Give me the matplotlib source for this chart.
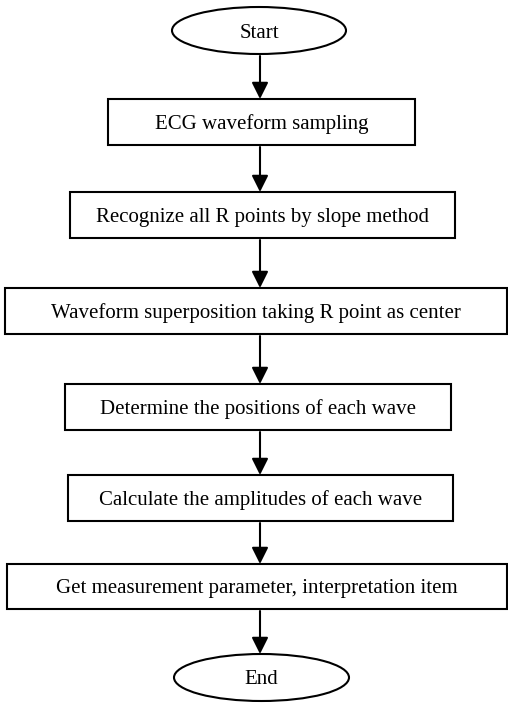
import matplotlib
matplotlib.use("Agg")

import matplotlib.pyplot as plt
from matplotlib.patches import Ellipse, Rectangle

# flowchart content
labels = [
    "Start",
    "ECG waveform sampling",
    "Recognize all R points by slope method",
    "Waveform superposition taking R point as center",
    "Determine the positions of each wave",
    "Calculate the amplitudes of each wave",
    "Get measurement parameter, interpretation item",
    "End",
]
shapes = ["ellipse", "box", "box", "box", "box", "box", "box", "ellipse"]

# layout in pixel coords (x0, x1, y_top, y_bottom)
geom = [
    (172, 346, 7, 54),
    (108, 415, 99, 145),
    (70, 455, 192, 238),
    (5, 507, 288, 334),
    (65, 451, 384, 430),
    (68, 453, 475, 521),
    (7, 507, 564, 609),
    (174, 349, 654, 701),
]
arrow_x = 260

fig = plt.figure(figsize=(5.08, 7.03), dpi=100)
ax = fig.add_axes([0, 0, 1, 1])
ax.set_xlim(0, 508)
ax.set_ylim(703, 0)
ax.axis("off")

for label, kind, (x0, x1, yt, yb) in zip(labels, shapes, geom):
    cx, cy = (x0 + x1) / 2, (yt + yb) / 2
    if kind == "ellipse":
        ax.add_patch(Ellipse((cx, cy), x1 - x0, yb - yt, fill=False,
                             lw=1.5, ec="black"))
    else:
        ax.add_patch(Rectangle((x0, yt), x1 - x0, yb - yt, fill=False,
                               lw=1.5, ec="black"))
    ax.text(cx, cy + 2.5, label, ha="center", va="center",
            family="Liberation Serif", fontsize=15)

# arrows between consecutive shapes
for (_, _, _, yb), (_, _, yt, _) in zip(geom[:-1], geom[1:]):
    ax.annotate("", xy=(arrow_x, yt), xytext=(arrow_x, yb + 2),
                arrowprops=dict(arrowstyle="-|>,head_length=1.0,head_width=0.5",
                                lw=1.5, color="black",
                                shrinkA=0, shrinkB=0))

fig.savefig("out.png", dpi=100, facecolor="white")
